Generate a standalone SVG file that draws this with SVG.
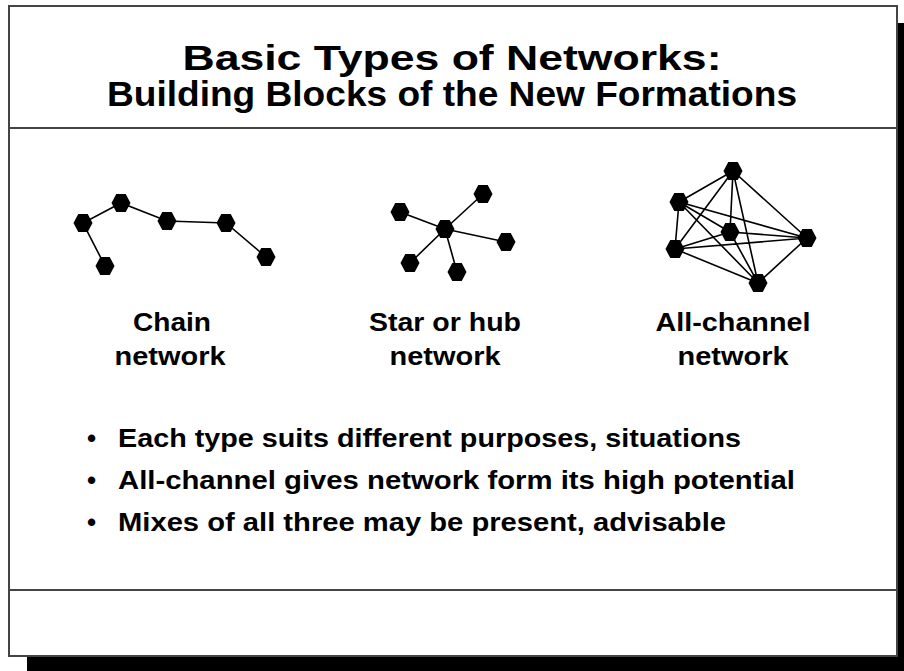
<svg xmlns="http://www.w3.org/2000/svg" width="904" height="671" viewBox="0 0 904 671">
<style>
.frame{fill:#fff;stroke:#444;stroke-width:2}
.div{stroke:#444;stroke-width:2}
.t{font-family:"Liberation Sans",Arial,sans-serif;font-weight:bold;fill:#000}
.title{font-size:35px;text-anchor:middle}
.lab{font-size:26px;text-anchor:middle}
.bul{font-size:26px}
.e{stroke:#000;stroke-width:1.6;fill:none}
.n{fill:#000}
</style>
<defs>
<polygon id="hex" points="-9.5,0 -4.75,-9 4.75,-9 9.5,0 4.75,9 -4.75,9"/>
</defs>
<rect x="27" y="23" width="877" height="648" fill="#000"/>
<rect class="frame" x="9" y="6" width="888" height="650"/>
<line class="div" x1="9" y1="128" x2="897" y2="128"/>
<line class="div" x1="9" y1="590" x2="897" y2="590"/>
<g id="title">
<text class="t title" x="452" y="70" textLength="539" lengthAdjust="spacingAndGlyphs">Basic Types of Networks:</text>
<text class="t title" x="452" y="106" textLength="690" lengthAdjust="spacingAndGlyphs">Building Blocks of the New Formations</text>
</g>
<g id="connectors">
<path class="e" d="M105,266L83,223L121,203L167,221L226,223L266,257"/>
<path class="e" d="M445,229L483,194M445,229L400,212M445,229L506,242M445,229L410,263M445,229L457,272"/>
<path class="e" d="M733,171L679,202M733,171L730,232M733,171L807,238M733,171L675,249M733,171L758,283M679,202L730,232M679,202L807,238M679,202L675,249M679,202L758,283M730,232L807,238M730,232L675,249M730,232L758,283M807,238L675,249M807,238L758,283M675,249L758,283"/>
</g>
<g id="chain-network">
<use href="#hex" class="n" x="83" y="223"/>
<use href="#hex" class="n" x="121" y="203"/>
<use href="#hex" class="n" x="167" y="221"/>
<use href="#hex" class="n" x="226" y="223"/>
<use href="#hex" class="n" x="266" y="257"/>
<use href="#hex" class="n" x="105" y="266"/>
<text class="t lab" x="172" y="331" textLength="78" lengthAdjust="spacingAndGlyphs">Chain</text>
<text class="t lab" x="170" y="365" textLength="111" lengthAdjust="spacingAndGlyphs">network</text>
</g>
<g id="star-network">
<use href="#hex" class="n" x="445" y="229"/>
<use href="#hex" class="n" x="483" y="194"/>
<use href="#hex" class="n" x="400" y="212"/>
<use href="#hex" class="n" x="506" y="242"/>
<use href="#hex" class="n" x="410" y="263"/>
<use href="#hex" class="n" x="457" y="272"/>
<text class="t lab" x="445" y="331" textLength="152" lengthAdjust="spacingAndGlyphs">Star or hub</text>
<text class="t lab" x="445" y="365" textLength="111" lengthAdjust="spacingAndGlyphs">network</text>
</g>
<g id="all-channel-network">
<use href="#hex" class="n" x="733" y="171"/>
<use href="#hex" class="n" x="679" y="202"/>
<use href="#hex" class="n" x="730" y="232"/>
<use href="#hex" class="n" x="807" y="238"/>
<use href="#hex" class="n" x="675" y="249"/>
<use href="#hex" class="n" x="758" y="283"/>
<text class="t lab" x="733" y="331" textLength="155" lengthAdjust="spacingAndGlyphs">All-channel</text>
<text class="t lab" x="733" y="365" textLength="111" lengthAdjust="spacingAndGlyphs">network</text>
</g>
<g id="bullets">
<text class="t bul" x="87" y="447">•</text>
<text class="t bul" x="118" y="447" textLength="623" lengthAdjust="spacingAndGlyphs">Each type suits different purposes, situations</text>
<text class="t bul" x="87" y="489">•</text>
<text class="t bul" x="118" y="489" textLength="677" lengthAdjust="spacingAndGlyphs">All-channel gives network form its high potential</text>
<text class="t bul" x="87" y="531">•</text>
<text class="t bul" x="118" y="531" textLength="608" lengthAdjust="spacingAndGlyphs">Mixes of all three may be present, advisable</text>
</g>
</svg>
